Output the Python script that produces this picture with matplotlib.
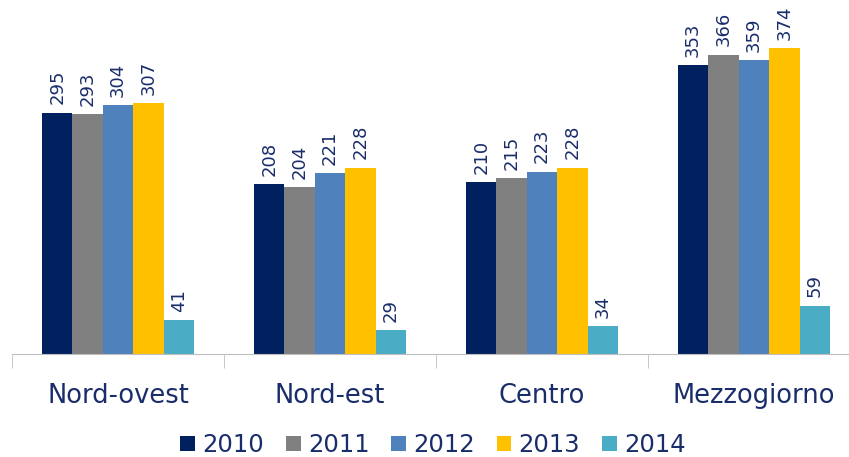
"""Grouped bar chart of regional values, 2010-2014."""

import numpy as np
from matplotlib import pyplot

regions = ['Nord-ovest', 'Nord-est', 'Centro', 'Mezzogiorno']
years = ['2010', '2011', '2012', '2013', '2014']
v2010 = [295, 208, 210, 353]
v2011 = [293, 204, 215, 366]
v2012 = [304, 221, 223, 359]
v2013 = [307, 228, 228, 374]
v2014 = [41, 29, 34, 59]
series = [v2010, v2011, v2012, v2013, v2014]
colors = ['#002060', '#808080', '#4F81BD', '#FFC000', '#4BACC6']
textcolor = '#1A2D6B'

fig = pyplot.figure(figsize=(8.49, 4.57), dpi=100)
ax = fig.add_axes([12 / 849, 103 / 457, 848 / 849, 354 / 457])

x = np.arange(len(regions))
width = 0.1435
for i, (vals, color, year) in enumerate(zip(series, colors, years)):
    pos = x + (i - 2) * width
    bars = ax.bar(pos, vals, width, color=color, label=year)
    for rect, v in zip(bars, vals):
        ax.annotate(str(v), (rect.get_x() + rect.get_width() / 2, v),
                    xytext=(0, 6), textcoords='offset points',
                    rotation=90, ha='center', va='bottom',
                    fontsize=13, color=textcolor)

ax.set_xlim(-0.5, len(regions) - 0.5)
ax.set_ylim(0, 433)
for side in ['top', 'right', 'left']:
    ax.spines[side].set_visible(False)
ax.spines['bottom'].set_color('#BFBFBF')
ax.set_yticks([])
ax.set_xticks(x)
ax.set_xticklabels(regions, fontsize=18.5, color=textcolor)
ax.tick_params(axis='x', which='major', length=0, pad=21)
ax.set_xticks(np.arange(len(regions) + 1) - 0.5, minor=True)
ax.tick_params(axis='x', which='minor', length=10, color='#BFBFBF',
               direction='out')

fig.legend(loc='center', bbox_to_anchor=(0.51, 0.026), ncol=5,
           frameon=False, fontsize=17.5, labelcolor=textcolor,
           handlelength=0.6, handleheight=0.6, handletextpad=0.3,
           columnspacing=0.9)

fig.savefig('out.png', dpi=100)
